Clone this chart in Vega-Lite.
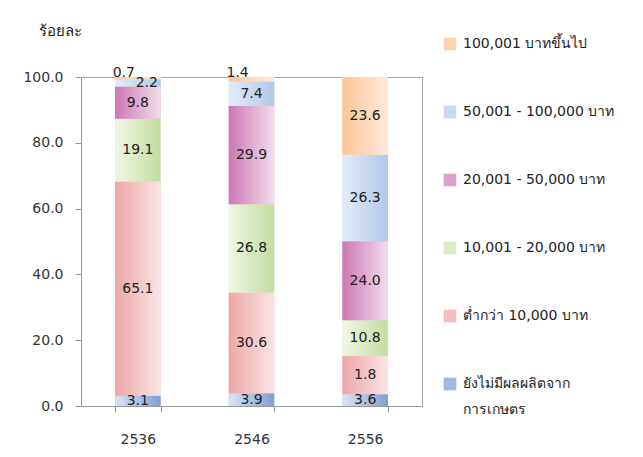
{
  "$schema": "https://vega.github.io/schema/vega-lite/v6.json",
  "width": 341,
  "height": 329,
  "autosize": {"type": "none"},
  "padding": {"left": 81, "top": 77, "right": 221, "bottom": 51},
  "background": "white",
  "config": {
    "font": "Tahoma, 'DejaVu Sans', sans-serif",
    "view": {"stroke": "#a6a6a6", "strokeWidth": 1},
    "axis": {"labelFont": "Tahoma, 'DejaVu Sans', sans-serif", "labelFontSize": 14, "labelColor": "#333333", "domainColor": "#999999", "tickColor": "#999999", "grid": false}
  },
  "data": {
    "values": [
      {"year": "2536", "group": "ยังไม่มีผลผลิตจากการเกษตร", "rank": 1, "value": 3.1, "label": "3.1"},
      {"year": "2536", "group": "ต่ำกว่า 10,000 บาท", "rank": 2, "value": 65.1, "label": "65.1"},
      {"year": "2536", "group": "10,001 - 20,000 บาท", "rank": 3, "value": 19.1, "label": "19.1"},
      {"year": "2536", "group": "20,001 - 50,000 บาท", "rank": 4, "value": 9.8, "label": "9.8"},
      {"year": "2536", "group": "50,001 - 100,000 บาท", "rank": 5, "value": 2.2, "label": "2.2"},
      {"year": "2536", "group": "100,001 บาทขึ้นไป", "rank": 6, "value": 0.7, "label": "0.7"},
      {"year": "2546", "group": "ยังไม่มีผลผลิตจากการเกษตร", "rank": 1, "value": 3.9, "label": "3.9"},
      {"year": "2546", "group": "ต่ำกว่า 10,000 บาท", "rank": 2, "value": 30.6, "label": "30.6"},
      {"year": "2546", "group": "10,001 - 20,000 บาท", "rank": 3, "value": 26.8, "label": "26.8"},
      {"year": "2546", "group": "20,001 - 50,000 บาท", "rank": 4, "value": 29.9, "label": "29.9"},
      {"year": "2546", "group": "50,001 - 100,000 บาท", "rank": 5, "value": 7.4, "label": "7.4"},
      {"year": "2546", "group": "100,001 บาทขึ้นไป", "rank": 6, "value": 1.4, "label": "1.4"},
      {"year": "2556", "group": "ยังไม่มีผลผลิตจากการเกษตร", "rank": 1, "value": 3.6, "label": "3.6"},
      {"year": "2556", "group": "ต่ำกว่า 10,000 บาท", "rank": 2, "value": 11.7, "label": "1.8"},
      {"year": "2556", "group": "10,001 - 20,000 บาท", "rank": 3, "value": 10.8, "label": "10.8"},
      {"year": "2556", "group": "20,001 - 50,000 บาท", "rank": 4, "value": 24.0, "label": "24.0"},
      {"year": "2556", "group": "50,001 - 100,000 บาท", "rank": 5, "value": 26.3, "label": "26.3"},
      {"year": "2556", "group": "100,001 บาทขึ้นไป", "rank": 6, "value": 23.6, "label": "23.6"}
    ]
  },
  "encoding": {
    "x": {
      "field": "year", "type": "nominal",
      "scale": {"paddingInner": 0.6, "paddingOuter": 0.3},
      "axis": {"title": null, "labelAngle": 0, "tickBand": "extent", "tickSize": 6, "labelPadding": 20, "domain": true}
    },
    "y": {
      "field": "value", "type": "quantitative", "stack": "zero", "title": "ร้อยละ",
      "scale": {"domain": [0, 100], "nice": false},
      "axis": {
        "values": [0, 20, 40, 60, 80, 100], "format": ".1f", "tickSize": 6, "labelPadding": 12,
        "title": "ร้อยละ", "titleAngle": 0, "titleX": -21, "titleY": -47, "titleAlign": "center", "titleBaseline": "middle",
        "titleFont": "Tahoma, 'DejaVu Sans', sans-serif", "titleFontSize": 15, "titleFontWeight": "normal", "titleColor": "#222222"
      }
    },
    "order": {"field": "rank", "type": "quantitative", "sort": "ascending"}
  },
  "layer": [
    {
      "mark": {"type": "bar"},
      "encoding": {
        "color": {
          "field": "group", "type": "nominal",
          "scale": {
            "domain": ["100,001 บาทขึ้นไป", "50,001 - 100,000 บาท", "20,001 - 50,000 บาท", "10,001 - 20,000 บาท", "ต่ำกว่า 10,000 บาท", "ยังไม่มีผลผลิตจากการเกษตร"],
            "range": ["#fdd3b0", "#c9d8ef", "#dba0cb", "#dcecc6", "#f2c0c0", "#9fb8e0"]
          },
          "legend": {
            "title": null, "orient": "none", "legendX": 362, "legendY": -40, "padding": 0,
            "symbolType": "square", "symbolSize": 160, "symbolStrokeWidth": 0, "symbolOpacity": 1, "rowPadding": 54,
            "labelFont": "Tahoma, 'DejaVu Sans', sans-serif", "labelFontSize": 14, "labelColor": "#222222", "labelOffset": 6, "labelLimit": 200,
            "labelExpr": "datum.label == 'ยังไม่มีผลผลิตจากการเกษตร' ? ['ยังไม่มีผลผลิตจาก', 'การเกษตร'] : datum.label",
            "labelBaseline": "top",
            "symbolOffset": 0,
            "encode": {"labels": {"update": {"lineHeight": {"value": 26}, "dy": {"value": -7}}}}
          }
        }
      }
    },
    {
      "mark": {"type": "bar"},
      "encoding": {
        "detail": {"field": "group"},
        "fill": {
          "condition": [
            {"test": "datum.rank == 6", "value": {"gradient": "linear", "x1": 0, "y1": 0, "x2": 1, "y2": 0, "stops": [{"offset": 0, "color": "#fcc597"}, {"offset": 1, "color": "#feeadb"}]}},
            {"test": "datum.rank == 5", "value": {"gradient": "linear", "x1": 0, "y1": 0, "x2": 1, "y2": 0, "stops": [{"offset": 0, "color": "#e3ebf7"}, {"offset": 1, "color": "#b3c8e8"}]}},
            {"test": "datum.rank == 4", "value": {"gradient": "linear", "x1": 0, "y1": 0, "x2": 1, "y2": 0, "stops": [{"offset": 0, "color": "#cc78b3"}, {"offset": 1, "color": "#f2dcec"}]}},
            {"test": "datum.rank == 3", "value": {"gradient": "linear", "x1": 0, "y1": 0, "x2": 1, "y2": 0, "stops": [{"offset": 0, "color": "#eff6e6"}, {"offset": 1, "color": "#c3dc9e"}]}},
            {"test": "datum.rank == 2", "value": {"gradient": "linear", "x1": 0, "y1": 0, "x2": 1, "y2": 0, "stops": [{"offset": 0, "color": "#eda7a7"}, {"offset": 1, "color": "#f9e4e4"}]}}
          ],
          "value": {"gradient": "linear", "x1": 0, "y1": 0, "x2": 1, "y2": 0, "stops": [{"offset": 0, "color": "#dbe4f3"}, {"offset": 1, "color": "#809fd3"}]}
        }
      }
    },
    {
      "transform": [{"filter": "datum.value >= 3"}],
      "mark": {"type": "text", "fontSize": 14, "color": "#222222", "baseline": "middle", "align": "center"},
      "encoding": {
        "y": {"field": "value", "type": "quantitative", "stack": "zero", "bandPosition": 0.5, "title": "ร้อยละ"},
        "detail": {"field": "group"},
        "text": {"field": "label", "type": "nominal"}
      }
    },
    {
      "transform": [
        {"stack": "value", "groupby": ["year"], "sort": [{"field": "rank", "order": "ascending"}], "as": ["v0", "v1"]},
        {"filter": "datum.value < 3 && datum.rank == 6"}
      ],
      "mark": {"type": "text", "fontSize": 14, "color": "#222222", "baseline": "middle", "align": "center", "dx": -14, "dy": -4},
      "encoding": {
        "y": {"field": "v1", "type": "quantitative", "title": "ร้อยละ"},
        "text": {"field": "label", "type": "nominal"}
      }
    },
    {
      "transform": [
        {"stack": "value", "groupby": ["year"], "sort": [{"field": "rank", "order": "ascending"}], "as": ["v0", "v1"]},
        {"filter": "datum.value < 3 && datum.rank == 5"}
      ],
      "mark": {"type": "text", "fontSize": 14, "color": "#222222", "baseline": "middle", "align": "center", "dx": 9, "dy": 4},
      "encoding": {
        "y": {"field": "v1", "type": "quantitative", "title": "ร้อยละ"},
        "text": {"field": "label", "type": "nominal"}
      }
    }
  ]
}
